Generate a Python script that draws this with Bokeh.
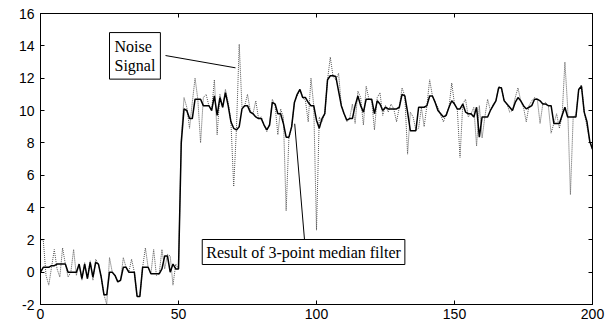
from bokeh.plotting import figure
from bokeh.models import Range1d, LinearAxis, FixedTicker, Label, ColumnDataSource
from bokeh.embed import file_html
from bokeh.resources import INLINE

# ---- data ----
sample_index = list(range(0, 201))

noise_signal = [
    2.0, 2.0, -0.2, -0.8, 0.3, 1.4, 0.2, -0.3, 1.5, 0.5,
    -0.3, 0.0, 1.4, -0.2, 0.5, -0.5, 0.6, -0.4, 0.7, -0.5,
    0.8, 0.5, -0.3, -1.4, -2.0, 0.9, 0.0, -0.2, -0.6, -0.5,
    0.9, 0.3, 0.0, 0.8, 0.0, -1.5, -1.5, 0.3, 1.5, 0.3,
    -0.1, 1.4, -0.2, -0.1, 1.4, 0.2, 1.1, 1.0, -0.8, 0.5,
    0.2, 8.3, 10.8, 10.2, 8.9, 10.5, 12.0, 10.7, 8.0, 10.8,
    11.0, 10.3, 10.0, 11.9, 8.5, 11.0, 10.2, 11.3, 10.5, 9.3,
    5.3, 8.9, 14.1, 10.2, 10.3, 11.0, 10.0, 9.8, 10.6, 9.5,
    9.6, 9.1, 8.7, 9.2, 10.7, 10.3, 8.5, 10.1, 9.6, 3.8,
    8.3, 9.0, 10.5, 10.9, 11.3, 10.8, 10.6, 9.3, 12.0, 10.3,
    2.6, 9.6, 9.3, 9.8, 11.9, 13.3, 12.1, 11.9, 12.3, 10.3,
    9.8, 9.3, 9.5, 10.4, 9.2, 11.2, 10.8, 9.1, 11.5, 10.7,
    10.6, 8.8, 10.8, 11.1, 9.7, 10.3, 9.9, 10.4, 10.1, 9.3,
    10.2, 11.4, 10.9, 7.3, 9.9, 9.6, 8.8, 8.9, 10.2, 9.0,
    10.3, 11.9, 10.9, 10.5, 10.2, 9.7, 9.3, 9.8, 10.2, 11.7,
    10.4, 10.1, 7.1, 10.4, 10.7, 9.6, 9.8, 10.2, 7.8, 10.3,
    8.3, 9.6, 10.7, 10.0, 10.4, 10.6, 11.5, 11.4, 10.6, 10.4,
    9.9, 10.0, 10.8, 11.4, 10.6, 10.2, 9.3, 10.3, 10.6, 10.8,
    10.7, 9.2, 10.4, 10.5, 10.3, 8.6, 9.2, 9.8, 8.9, 9.7,
    13.0, 10.2, 4.8, 9.6, 9.7, 11.3, 11.6, 9.9, 9.0, 8.1,
    7.6,
]

median_filtered = [
    0.0, 0.3, 0.3, 0.3, 0.4, 0.4, 0.5, 0.5, 0.5, 0.5,
    0.0, 0.0, 0.0, 0.0, 0.5, -0.4, 0.5, -0.4, 0.6, -0.3,
    0.6, 0.5, -0.3, -1.4, -1.4, 0.0, 0.0, -0.2, -0.6, -0.5,
    0.3, 0.3, 0.0, 0.0, 0.0, -1.5, -1.5, 0.3, 0.3, 0.3,
    -0.1, -0.1, -0.1, -0.1, 0.2, 1.0, 1.0, 0.0, 0.5, 0.2,
    0.2, 8.0, 10.1, 10.0, 9.5, 9.5, 10.7, 10.7, 10.7, 10.3,
    10.3, 10.3, 10.0, 10.9, 9.7, 10.8, 10.2, 11.1, 10.3, 9.3,
    8.9, 8.8, 9.0, 10.1, 10.3, 10.3, 9.9, 9.8, 9.6, 9.5,
    9.5, 9.1, 8.8, 9.1, 10.5, 10.4, 9.8, 9.8, 9.2, 8.35,
    8.35, 9.0, 10.5, 11.0, 11.3, 10.8, 10.8, 10.5, 10.3, 10.3,
    9.4, 8.9, 9.5, 9.8, 11.9, 12.15, 12.15, 12.1, 11.2, 10.3,
    9.8, 9.4, 9.5, 9.5, 10.3, 10.9, 10.3, 9.9, 10.7, 10.7,
    10.7, 9.8, 10.6, 10.4, 10.0, 10.2, 10.1, 10.1, 10.1, 10.1,
    10.2, 11.0, 10.9, 9.9, 8.75, 8.75, 8.75, 10.2, 10.2, 10.2,
    10.3, 10.9, 10.9, 10.5, 10.0, 9.8, 9.6, 9.7, 10.2, 10.6,
    10.4, 10.1, 10.1, 10.4, 9.9, 9.8, 9.8, 9.6, 10.2, 8.35,
    9.6, 9.6, 9.6, 10.0, 10.3, 10.6, 11.4, 11.4, 10.6, 10.4,
    10.2, 10.0, 10.5, 10.8, 10.6, 10.3, 10.1, 10.2, 10.3, 10.7,
    10.7, 10.6, 10.4, 10.4, 10.3, 10.3, 9.2, 9.2, 9.2, 9.7,
    10.2, 9.6, 9.6, 9.6, 9.6, 11.3, 11.5, 9.9, 9.3, 8.1,
    7.6,
]

x_ticks = [0, 50, 100, 150, 200]
y_ticks = [-2, 0, 2, 4, 6, 8, 10, 12, 14, 16]

noise_label = "Noise\nSignal"
filter_label = "Result of 3-point median filter"

# ---- figure ----
p = figure(width=611, height=326, output_backend="svg", toolbar_location=None,
           x_range=Range1d(0, 200), y_range=Range1d(-2, 16))
p.min_border_left = 40
p.min_border_right = 19
p.min_border_top = 13
p.min_border_bottom = 22
p.xgrid.visible = False
p.ygrid.visible = False
p.outline_line_color = "black"
p.outline_line_width = 1
p.background_fill_color = "white"
p.border_fill_color = "white"

src = ColumnDataSource(dict(x=sample_index, noise=noise_signal, med=median_filtered))
p.line("x", "noise", source=src, line_color="#555555", line_width=1, line_dash="1 1")
p.line("x", "med", source=src, line_color="black", line_width=1.5)

def style_axis(ax, ticks, show_labels=True):
    ax.ticker = FixedTicker(ticks=ticks)
    ax.major_tick_in = 4
    ax.major_tick_out = 0
    ax.minor_tick_in = 0
    ax.minor_tick_out = 0
    ax.axis_line_color = "black"
    ax.major_tick_line_color = "black"
    ax.major_label_text_font = "Liberation Sans"
    ax.major_label_text_font_size = "14px"
    ax.major_label_text_color = "black"
    if show_labels:
        ax.major_label_standoff = 4
        ax.major_label_overrides = {t: str(t) for t in ticks}
    else:
        ax.major_label_standoff = 0
        ax.major_label_overrides = {t: "" for t in ticks}

style_axis(p.xaxis[0], x_ticks)
style_axis(p.yaxis[0], y_ticks)
p.yaxis[0].major_label_standoff = 6

top_axis = LinearAxis()
style_axis(top_axis, x_ticks, show_labels=False)
p.add_layout(top_axis, "above")
right_axis = LinearAxis()
style_axis(right_axis, y_ticks, show_labels=False)
p.add_layout(right_axis, "right")

# ---- annotations ----
noise_ptr = dict(x0=[45.3], y0=[13.4], x1=[70.65], y1=[12.64])
filter_ptr = dict(x0=[95.65], y0=[2.02], x1=[92.1], y1=[9.18])
p.segment(source=ColumnDataSource(noise_ptr), x0="x0", y0="y0", x1="x1", y1="y1",
          line_color="black", line_width=1)
p.segment(source=ColumnDataSource(filter_ptr), x0="x0", y0="y0", x1="x1", y1="y1",
          line_color="black", line_width=1)

lab1 = Label(x=25.0, y=14.82, text=noise_label, anchor="top_left",
             text_font="Liberation Serif", text_font_size="16px", text_color="black",
             text_line_height=1.15,
             border_line_color="black", border_line_width=1,
             background_fill_color="white", padding=5)
lab2 = Label(x=58.6, y=2.02, text=filter_label, anchor="top_left",
             text_font="Liberation Serif", text_font_size="16px", text_color="black",
             border_line_color="black", border_line_width=1,
             background_fill_color="white", padding=4)
p.add_layout(lab1)
p.add_layout(lab2)

open("out.html", "w").write(file_html(p, INLINE))
